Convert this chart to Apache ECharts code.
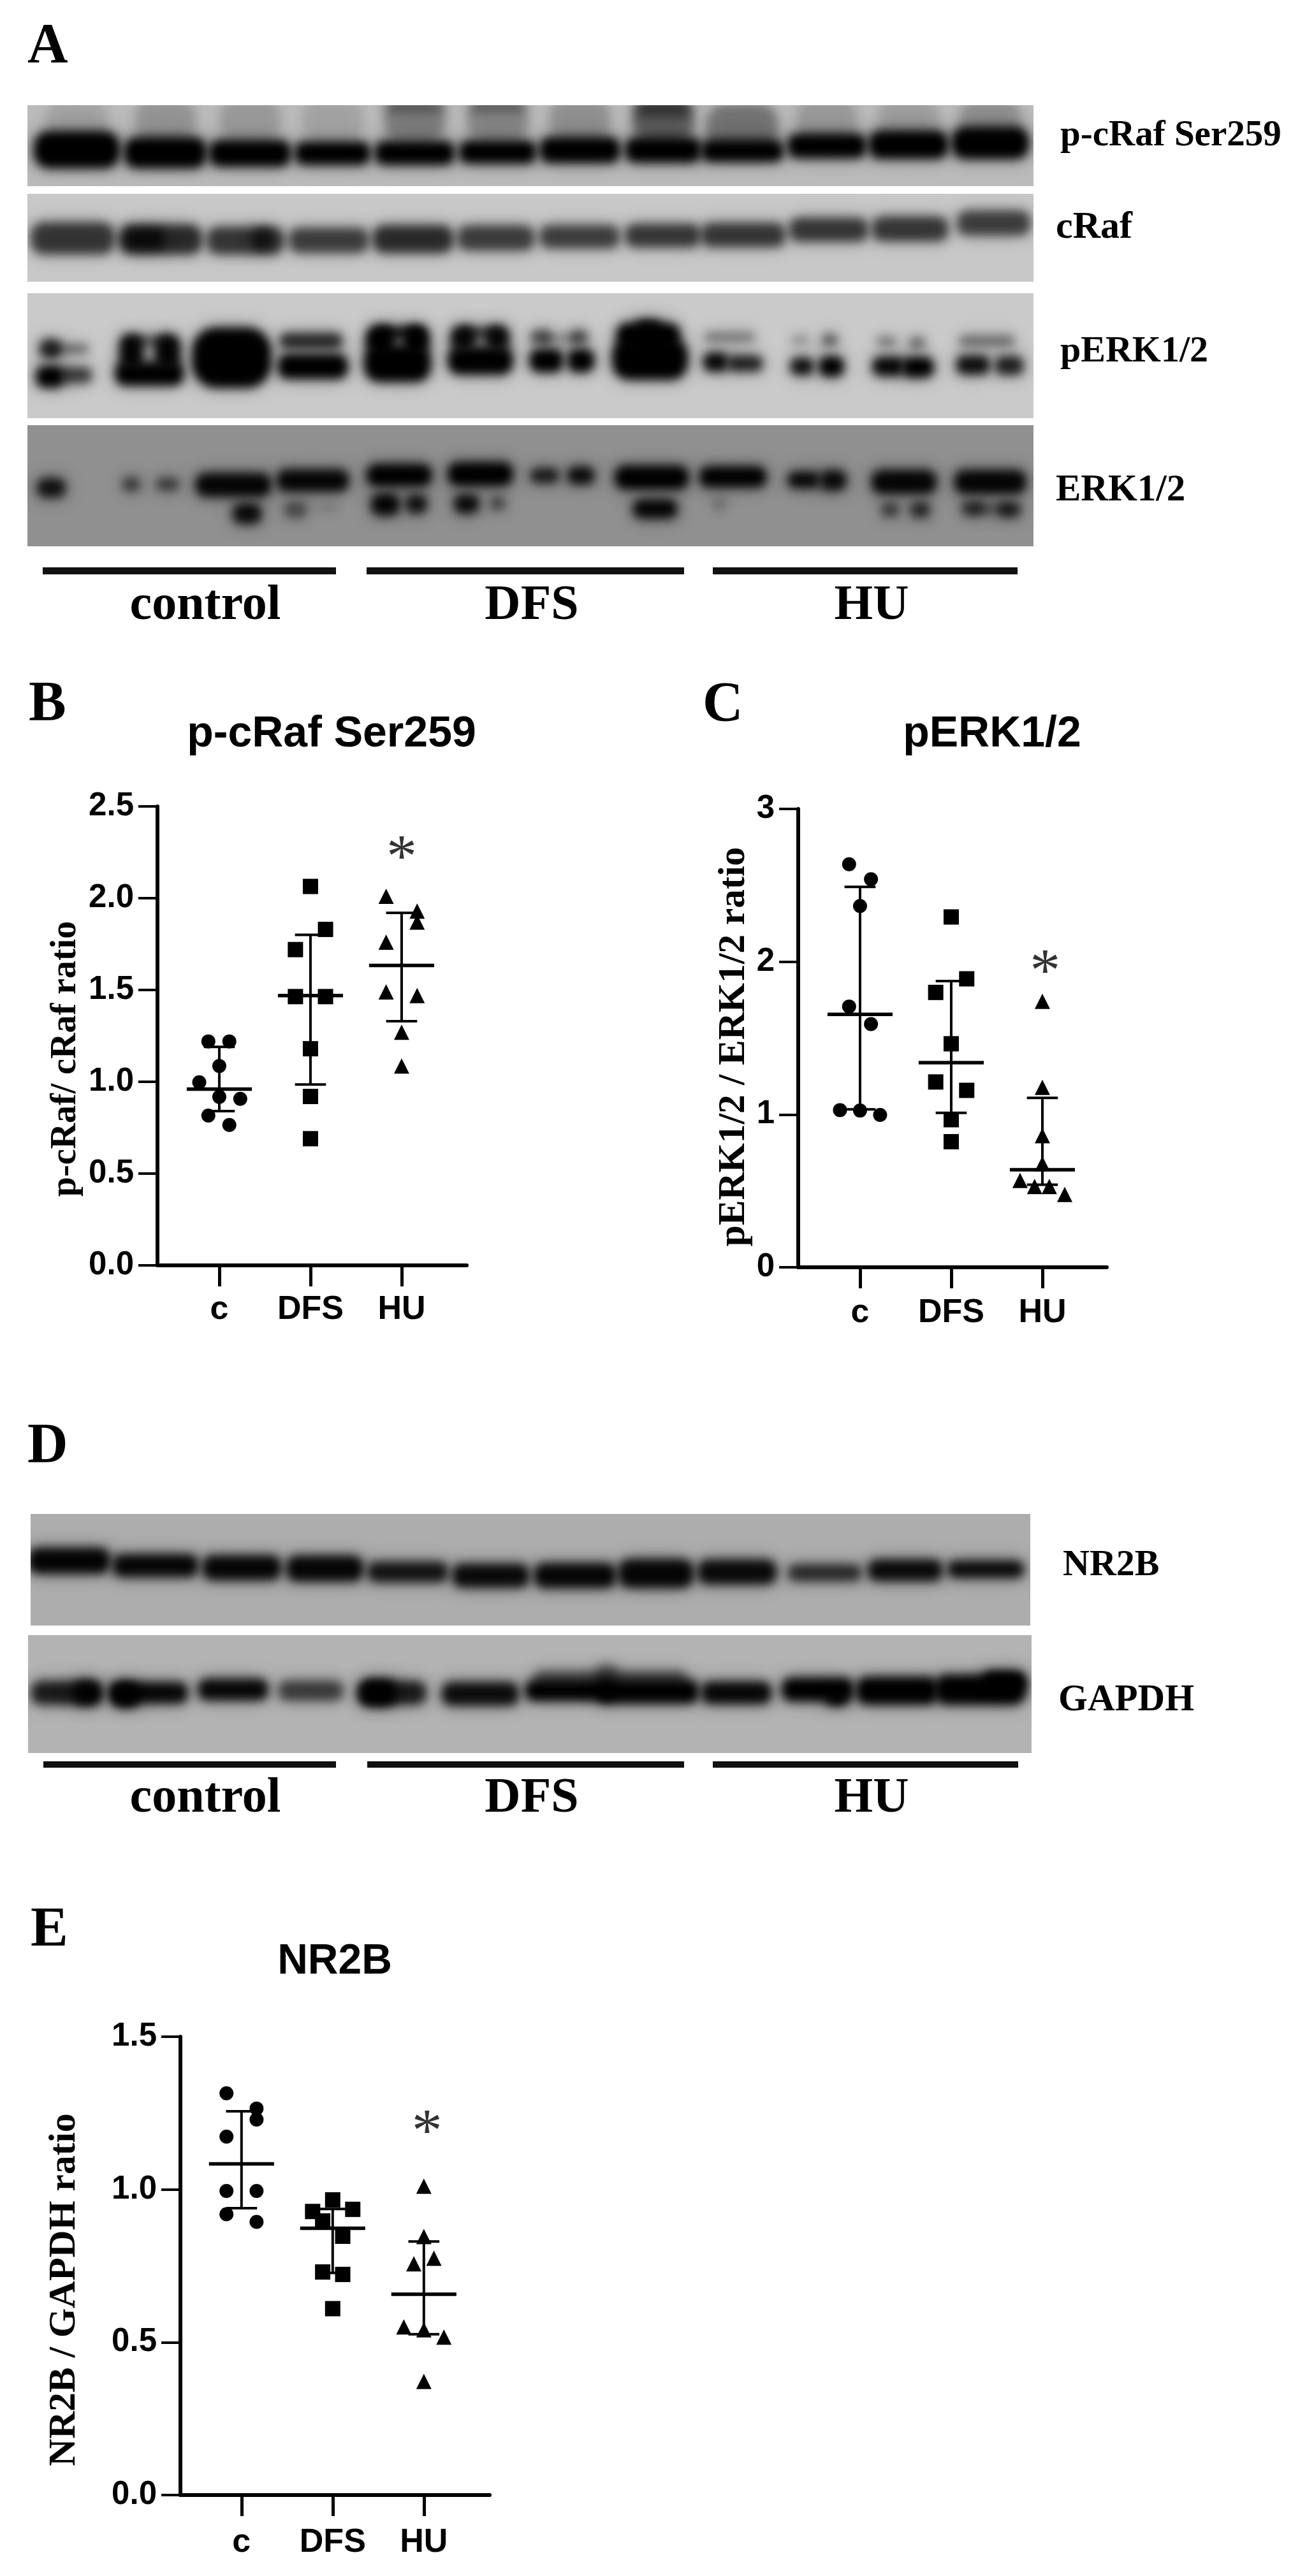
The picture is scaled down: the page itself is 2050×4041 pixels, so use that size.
<!DOCTYPE html>
<html>
<head>
<meta charset="utf-8">
<title>Western blots and ratio plots</title>
<style>
  html, body { margin: 0; background: #fff; }
  #chart { width: 2050px; height: 4041px; }
</style>
<script src="https://cdn.jsdelivr.net/npm/echarts@6/dist/echarts.min.js"></script>
</head>
<body>
<div id="chart"></div>
<script>
const groups = ['c', 'DFS', 'HU']

// panel B, [group position, ratio]
const bControl = [[0.88, 1.22], [1.11, 1.22], [1, 1.086], [0.78, 0.997], [1, 0.918], [1.23, 0.907], [0.88, 0.816], [1.11, 0.765]]
const bDfs = [[2, 2.064], [2.165, 1.83], [1.835, 1.72], [1.835, 1.464], [2.165, 1.464], [2, 1.18], [2, 0.92], [2, 0.69]]
const bHu = [[2.83, 2.01], [3.17, 1.93], [3.17, 1.87], [2.83, 1.76], [2.83, 1.49], [3.17, 1.47], [3, 1.27], [3, 1.086]]
const bMean = [0.96, 1.47, 1.634]
const bUpper = [1.19, 1.8, 1.92]
const bLower = [0.84, 0.985, 1.33]
const bStar = [[3, 2.276]]

// panel C
const cControl = [[0.88, 2.638], [1.12, 2.54], [1, 2.365], [0.88, 1.707], [1.12, 1.592], [0.78, 1.029], [1, 1.026], [1.22, 0.997]]
const cDfs = [[2, 2.293], [2.17, 1.888], [1.83, 1.799], [2, 1.463], [1.83, 1.213], [2.17, 1.158], [2, 0.966], [2, 0.822]]
const cHu = [[3, 1.741], [3, 1.178], [3, 0.862], [3, 0.678], [2.755, 0.569], [2.915, 0.529], [3.076, 0.529], [3.245, 0.477]]
const cMean = [1.655, 1.339, 0.638]
const cUpper = [2.49, 1.873, 1.109]
const cLower = [1.034, 1.011, 0.54]
const cStar = [[3.03, 2.0]]

// panel E
const eControl = [[0.835, 1.315], [1.165, 1.265], [1.165, 1.229], [0.835, 1.173], [0.835, 0.995], [1.165, 0.995], [0.835, 0.919], [1.165, 0.894]]
const eDfs = [[2, 0.966], [1.78, 0.928], [2.22, 0.935], [1.89, 0.897], [2.11, 0.847], [1.89, 0.73], [2.11, 0.722], [2, 0.61]]
const eHu = [[3, 1.011], [3, 0.846], [3.11, 0.775], [2.89, 0.757], [2.78, 0.55], [3, 0.541], [3.22, 0.517], [3, 0.372]]
const eMean = [1.084, 0.873, 0.657]
const eUpper = [1.256, 0.936, 0.83]
const eLower = [0.939, 0.727, 0.526]
const eStar = [[3.035, 1.22]]

// gel bands: lane position, migration, band width, band thickness, density 0-1
const pCrafX = [222, 478, 723, 962, 1200, 1440, 1678, 1919, 2148, 2393, 2629, 2866, 1200, 1440, 1919, 222, 478, 723, 962, 1200, 1440, 1678, 1919, 2148, 2393, 2629, 2866]
const pCrafY = [85, 85, 85, 85, 85, 85, 85, 85, 110, 85, 85, 85, 38, 38, 45, 185, 195, 197, 197, 196, 193, 186, 186, 189, 172, 168, 162]
const pCrafW = [165, 165, 165, 165, 165, 165, 165, 165, 195, 165, 165, 165, 160, 150, 150, 235, 225, 223, 205, 218, 210, 220, 207, 225, 215, 217, 210]
const pCrafH = [130, 130, 130, 130, 130, 130, 130, 130, 150, 130, 130, 130, 20, 20, 40, 110, 90, 75, 63, 65, 63, 72, 70, 58, 67, 80, 93]
const pCrafD = [0.1, 0.16, 0.14, 0.1, 0.26, 0.22, 0.18, 0.4, 0.31, 0.14, 0.12, 0.18, 0.3, 0.3, 0.4, 1, 1, 1, 1, 1, 1, 1, 1, 1, 1, 1, 1]

const cRafX = [210, 464, 710, 951, 1195, 1435, 1677, 1918, 2151, 2398, 2634, 2876, 420, 760]
const cRafY = [487, 491, 495, 494, 490, 486, 482, 478, 476, 458, 455, 435, 490, 490]
const cRafW = [230, 228, 210, 218, 220, 210, 218, 205, 230, 215, 207, 200, 100, 50]
const cRafH = [95, 88, 80, 72, 80, 72, 65, 65, 68, 67, 70, 70, 50, 60]
const cRafD = [0.66, 0.72, 0.66, 0.62, 0.72, 0.62, 0.62, 0.66, 0.66, 0.66, 0.66, 0.62, 0.7, 0.6]

const pErkX = [145, 195, 145, 220, 380, 485, 432, 432, 670, 900, 905, 1100, 1205, 1150, 1155, 1340, 1440, 1390, 1390, 1566, 1676, 1621, 1581, 1681, 1876, 1881, 1876, 2111, 2071, 2156, 2316, 2401, 2321, 2406, 2566, 2654, 2571, 2656, 2856, 2816, 2921]
const pErkY = [865, 865, 960, 955, 875, 875, 950, 838, 895, 838, 925, 835, 835, 915, 810, 830, 830, 810, 905, 825, 825, 828, 905, 905, 820, 900, 790, 825, 910, 915, 835, 835, 925, 925, 840, 845, 925, 928, 838, 920, 922]
const pErkW = [50, 110, 70, 80, 55, 60, 185, 130, 215, 170, 190, 70, 60, 180, 130, 60, 55, 120, 175, 50, 40, 100, 85, 65, 170, 205, 60, 135, 60, 90, 40, 35, 55, 60, 45, 35, 80, 80, 150, 85, 70]
const pErkH = [50, 18, 60, 40, 100, 100, 65, 18, 190, 40, 70, 80, 80, 110, 25, 70, 70, 20, 80, 35, 35, 12, 65, 65, 70, 125, 30, 22, 50, 40, 18, 28, 45, 55, 22, 25, 50, 55, 25, 50, 50]
const pErkD = [0.75, 0.45, 1, 0.65, 0.95, 0.95, 1, 0.55, 1, 0.75, 1, 1, 1, 1, 0.9, 0.9, 0.9, 0.7, 1, 0.55, 0.55, 0.3, 1, 1, 1, 1, 0.9, 0.35, 0.95, 0.8, 0.25, 0.5, 0.9, 1, 0.35, 0.45, 0.95, 1, 0.4, 0.9, 0.8]

const erkX = [148, 380, 485, 675, 905, 1155, 1390, 1576, 1681, 1886, 2121, 2326, 2411, 2616, 2866, 715, 855, 950, 1115, 1205, 1350, 1440, 1896, 2081, 2576, 2663, 2816, 2921, 2866]
const erkY = [1340, 1328, 1328, 1330, 1315, 1297, 1293, 1298, 1298, 1305, 1303, 1313, 1315, 1320, 1320, 1428, 1415, 1410, 1397, 1395, 1395, 1393, 1412, 1395, 1415, 1415, 1410, 1415, 1412]
const erkW = [70, 40, 55, 205, 195, 175, 175, 70, 65, 200, 180, 80, 65, 175, 195, 70, 55, 50, 70, 50, 60, 30, 115, 30, 40, 45, 55, 55, 120]
const erkH = [50, 35, 30, 65, 60, 60, 65, 35, 45, 65, 55, 40, 55, 65, 65, 55, 40, 15, 60, 50, 50, 35, 50, 30, 35, 40, 32, 35, 18]
const erkD = [0.85, 0.55, 0.55, 0.95, 0.95, 1, 1, 0.8, 0.9, 1, 1, 0.95, 0.9, 0.95, 0.95, 0.9, 0.45, 0.12, 0.95, 0.85, 0.9, 0.5, 0.95, 0.2, 0.55, 0.7, 0.6, 0.7, 0.4]

const nr2bX = [200, 450, 700, 940, 1180, 1420, 1664, 1898, 2133, 2386, 2619, 2852]
const nr2bY = [265, 288, 298, 302, 318, 335, 335, 325, 318, 322, 310, 305]
const nr2bW = [225, 235, 215, 210, 220, 210, 225, 205, 215, 200, 203, 208]
const nr2bH = [100, 85, 95, 100, 75, 90, 95, 115, 95, 60, 80, 60]
const nr2bD = [0.97, 0.95, 0.95, 0.95, 0.85, 0.92, 0.95, 0.95, 0.92, 0.7, 0.92, 0.92]

const gapdhX = [195, 250, 430, 365, 675, 900, 1135, 1095, 1390, 1766, 1756, 1646, 1876, 2131, 2366, 2421, 2596, 2836, 2906]
const gapdhY = [885, 885, 885, 895, 870, 875, 885, 885, 890, 820, 790, 875, 880, 885, 870, 910, 875, 870, 830]
const gapdhW = [195, 60, 215, 65, 190, 175, 185, 90, 210, 430, 50, 240, 280, 190, 195, 50, 225, 250, 110]
const gapdhH = [90, 90, 80, 95, 80, 75, 90, 100, 90, 60, 60, 75, 90, 85, 90, 50, 110, 120, 70]
const gapdhD = [0.8, 0.9, 0.95, 1, 0.95, 0.6, 0.8, 1, 0.9, 0.45, 0.35, 1, 1, 0.95, 1, 0.9, 1, 1, 1]

const fontSerif = '"Liberation Serif", serif'
const fontSans = '"Liberation Sans", sans-serif'

const OFFSCREEN = 4000

const softRect = (cx, cy, w, h, blur, alpha) => ({
  type: 'rect',
  // only the blurred shadow lands on the canvas, that gives the soft film look
  shape: { x: cx - w / 2 - OFFSCREEN, y: cy - h / 2, width: w, height: h, r: Math.min(w, h) * 0.4 },
  style: { fill: '#000', shadowBlur: blur, shadowOffsetX: OFFSCREEN, shadowColor: `rgba(0,0,0,${alpha})` },
})

const bandItem = (params, api) => {
  const c = api.coord([api.value(0), api.value(1)])
  const s = api.size([api.value(2), api.value(3)])
  const d = api.value(4)
  return {
    type: 'group',
    children: [
      softRect(c[0], c[1], s[0] + 10, s[1] + 10, 28, d * 0.4),
      softRect(c[0], c[1], s[0] + 6, s[1] + 6, 15, d),
    ],
  }
}

const grid = []
const xAxis = []
const yAxis = []
const series = []

const addBlot = (box, range, color, xs, ys, ws, hs, density) => {
  const i = grid.length
  grid.push({ left: box[0], top: box[1], width: box[2], height: box[3], show: true, backgroundColor: color, borderWidth: 0 })
  xAxis.push({ gridIndex: i, type: 'value', min: range[0], max: range[1], show: false })
  yAxis.push({ gridIndex: i, type: 'value', min: range[2], max: range[3], inverse: true, show: false })
  series.push({
    type: 'custom',
    xAxisIndex: i,
    yAxisIndex: i,
    clip: true,
    silent: true,
    renderItem: bandItem,
    data: xs.map((x, n) => [x, ys[n], ws[n], hs[n], density[n]]),
  })
}

const summaryItem = (params, api) => {
  const x = api.value(0)
  const mean = api.coord([x, api.value(1)])
  const up = api.coord([x, api.value(2)])
  const low = api.coord([x, api.value(3)])
  const meanHalf = api.size([0.357, 0])[0]
  const capHalf = api.size([0.17, 0])[0]
  const thin = { stroke: '#000', lineWidth: 4 }
  const seg = (x1, y1, x2, y2, style) => ({ type: 'line', shape: { x1, y1, x2, y2 }, style })
  return {
    type: 'group',
    children: [
      seg(up[0], up[1], low[0], low[1], thin),
      seg(up[0] - capHalf, up[1], up[0] + capHalf, up[1], thin),
      seg(low[0] - capHalf, low[1], low[0] + capHalf, low[1], thin),
      seg(mean[0] - meanHalf, mean[1], mean[0] + meanHalf, mean[1], { stroke: '#000', lineWidth: 5.5 }),
    ],
  }
}

const addPlot = (box, xMin, yMax, yStep, decimals, labelGap, points, mean, upper, lower, star) => {
  const i = grid.length
  grid.push({ left: box[0], top: box[1], width: box[2], height: box[3] })
  xAxis.push({
    gridIndex: i,
    type: 'value',
    min: xMin,
    max: xMin + box[2] / 143,
    splitLine: { show: false },
    axisLine: { show: true, lineStyle: { color: '#000', width: 6 } },
    axisTick: { show: true, customValues: [1, 2, 3], length: 33, lineStyle: { color: '#000', width: 5 } },
    axisLabel: {
      show: true,
      customValues: [1, 2, 3],
      margin: labelGap,
      formatter: (v) => groups[v - 1],
      color: '#000',
      fontFamily: fontSans,
      fontWeight: 'bold',
      fontSize: 52,
    },
  })
  yAxis.push({
    gridIndex: i,
    type: 'value',
    min: 0,
    max: yMax,
    interval: yStep,
    splitLine: { show: false },
    axisLine: { show: true, lineStyle: { color: '#000', width: 6 } },
    axisTick: { show: true, length: 30, lineStyle: { color: '#000', width: 4 } },
    axisLabel: {
      margin: 37,
      padding: [10, 0, 0, 0],
      formatter: (v) => v.toFixed(decimals),
      color: '#000',
      fontFamily: fontSans,
      fontWeight: 'bold',
      fontSize: 51,
    },
  })
  const symbols = ['circle', 'rect', 'triangle']
  const sizes = [22, 24, 24]
  points.forEach((data, g) => {
    series.push({
      type: 'scatter',
      xAxisIndex: i,
      yAxisIndex: i,
      symbol: symbols[g],
      symbolSize: sizes[g],
      itemStyle: { color: '#000', opacity: 1 },
      data,
    })
  })
  series.push({
    type: 'custom',
    xAxisIndex: i,
    yAxisIndex: i,
    silent: true,
    renderItem: summaryItem,
    data: mean.map((m, g) => [g + 1, m, upper[g], lower[g]]),
  })
  series.push({
    type: 'scatter',
    xAxisIndex: i,
    yAxisIndex: i,
    symbolSize: 1,
    itemStyle: { color: 'transparent' },
    label: {
      show: true,
      position: 'inside',
      formatter: '*',
      offset: [0, 20],
      color: '#000',
      fontFamily: fontSerif,
      fontSize: 96,
    },
    data: star,
  })
}

addBlot([43, 165, 1578, 127], [79, 2991, 33, 309], '#bbbbbb', pCrafX, pCrafY, pCrafW, pCrafH, pCrafD)
addBlot([43, 304, 1578, 138], [79, 2991, 335, 636], '#c8c8c8', cRafX, cRafY, cRafW, cRafH, cRafD)
addBlot([43, 460, 1578, 196], [79, 2991, 675, 1102], '#cacaca', pErkX, pErkY, pErkW, pErkH, pErkD)
addBlot([43, 667, 1578, 190], [79, 2991, 1126, 1540], '#909090', erkX, erkY, erkW, erkH, erkD)
addBlot([48, 2375, 1568, 175], [89, 2981, 45, 570], '#adadad', nr2bX, nr2bY, nr2bW, nr2bH, nr2bD)
addBlot([44, 2565, 1574, 185], [82, 2985, 612, 1170], '#b3b3b3', gapdhX, gapdhY, gapdhW, gapdhH, gapdhD)

addPlot([247, 1265, 485, 720], 0.322, 2.5, 0.5, 1, 44, [bControl, bDfs, bHu], bMean, bUpper, bLower, bStar)
addPlot([1252, 1269, 484, 719], 0.322, 3, 1, 0, 46, [cControl, cDfs, cHu], cMean, cUpper, cLower, cStar)
addPlot([283, 3195, 485, 719], 0.33, 1.5, 0.5, 1, 49, [eControl, eDfs, eHu], eMean, eUpper, eLower, eStar)

const text = (str, x, y, font, align = 'left', rotation = 0) => ({
  type: 'text',
  x,
  y,
  rotation,
  silent: true,
  style: { text: str, font, fill: '#000', textAlign: align, textVerticalAlign: 'middle' },
})
const serif = (size) => `bold ${size}px ${fontSerif}`
const sans = (size) => `bold ${size}px ${fontSans}`
const bar = (x, y, w, h) => ({ type: 'rect', silent: true, shape: { x, y, width: w, height: h }, style: { fill: '#111' } })

const graphicItems = [
  text('A', 43, 74, serif(88)),
  text('B', 45, 1106, serif(88)),
  text('C', 1102, 1107, serif(88)),
  text('D', 43, 2270, serif(88)),
  text('E', 48, 3029, serif(88)),

  text('p-cRaf Ser259', 1663, 213, serif(57)),
  text('cRaf', 1656, 357, serif(60)),
  text('pERK1/2', 1663, 552, serif(58)),
  text('ERK1/2', 1656, 770, serif(59)),
  text('NR2B', 1667, 2456, serif(58)),
  text('GAPDH', 1660, 2668, serif(59)),

  bar(67, 890, 460, 11), bar(575, 890, 498, 11), bar(1118, 890, 478, 11),
  text('control', 322, 951, serif(78), 'center'),
  text('DFS', 834, 951, serif(78), 'center'),
  text('HU', 1367, 951, serif(78), 'center'),

  bar(68, 2763, 459, 10), bar(576, 2763, 497, 10), bar(1118, 2763, 479, 10),
  text('control', 322, 2822, serif(78), 'center'),
  text('DFS', 834, 2822, serif(78), 'center'),
  text('HU', 1367, 2822, serif(78), 'center'),

  text('p-cRaf Ser259', 520, 1152, sans(68), 'center'),
  text('pERK1/2', 1556, 1152, sans(68), 'center'),
  text('NR2B', 525, 3078, sans(66), 'center'),

  text('p-cRaf/ cRaf ratio', 104, 1661, serif(56), 'center', Math.PI / 2),
  text('pERK1/2 / ERK1/2 ratio', 1152, 1642, serif(59.5), 'center', Math.PI / 2),
  text('NR2B / GAPDH ratio', 102, 3592, serif(59.5), 'center', Math.PI / 2),
]

const chart = echarts.init(document.getElementById('chart'), null, { renderer: 'canvas' })
chart.setOption({
  animation: false,
  backgroundColor: '#fff',
  tooltip: { show: false },
  grid,
  xAxis,
  yAxis,
  series,
  graphic: graphicItems,
})
</script>
</body>
</html>
